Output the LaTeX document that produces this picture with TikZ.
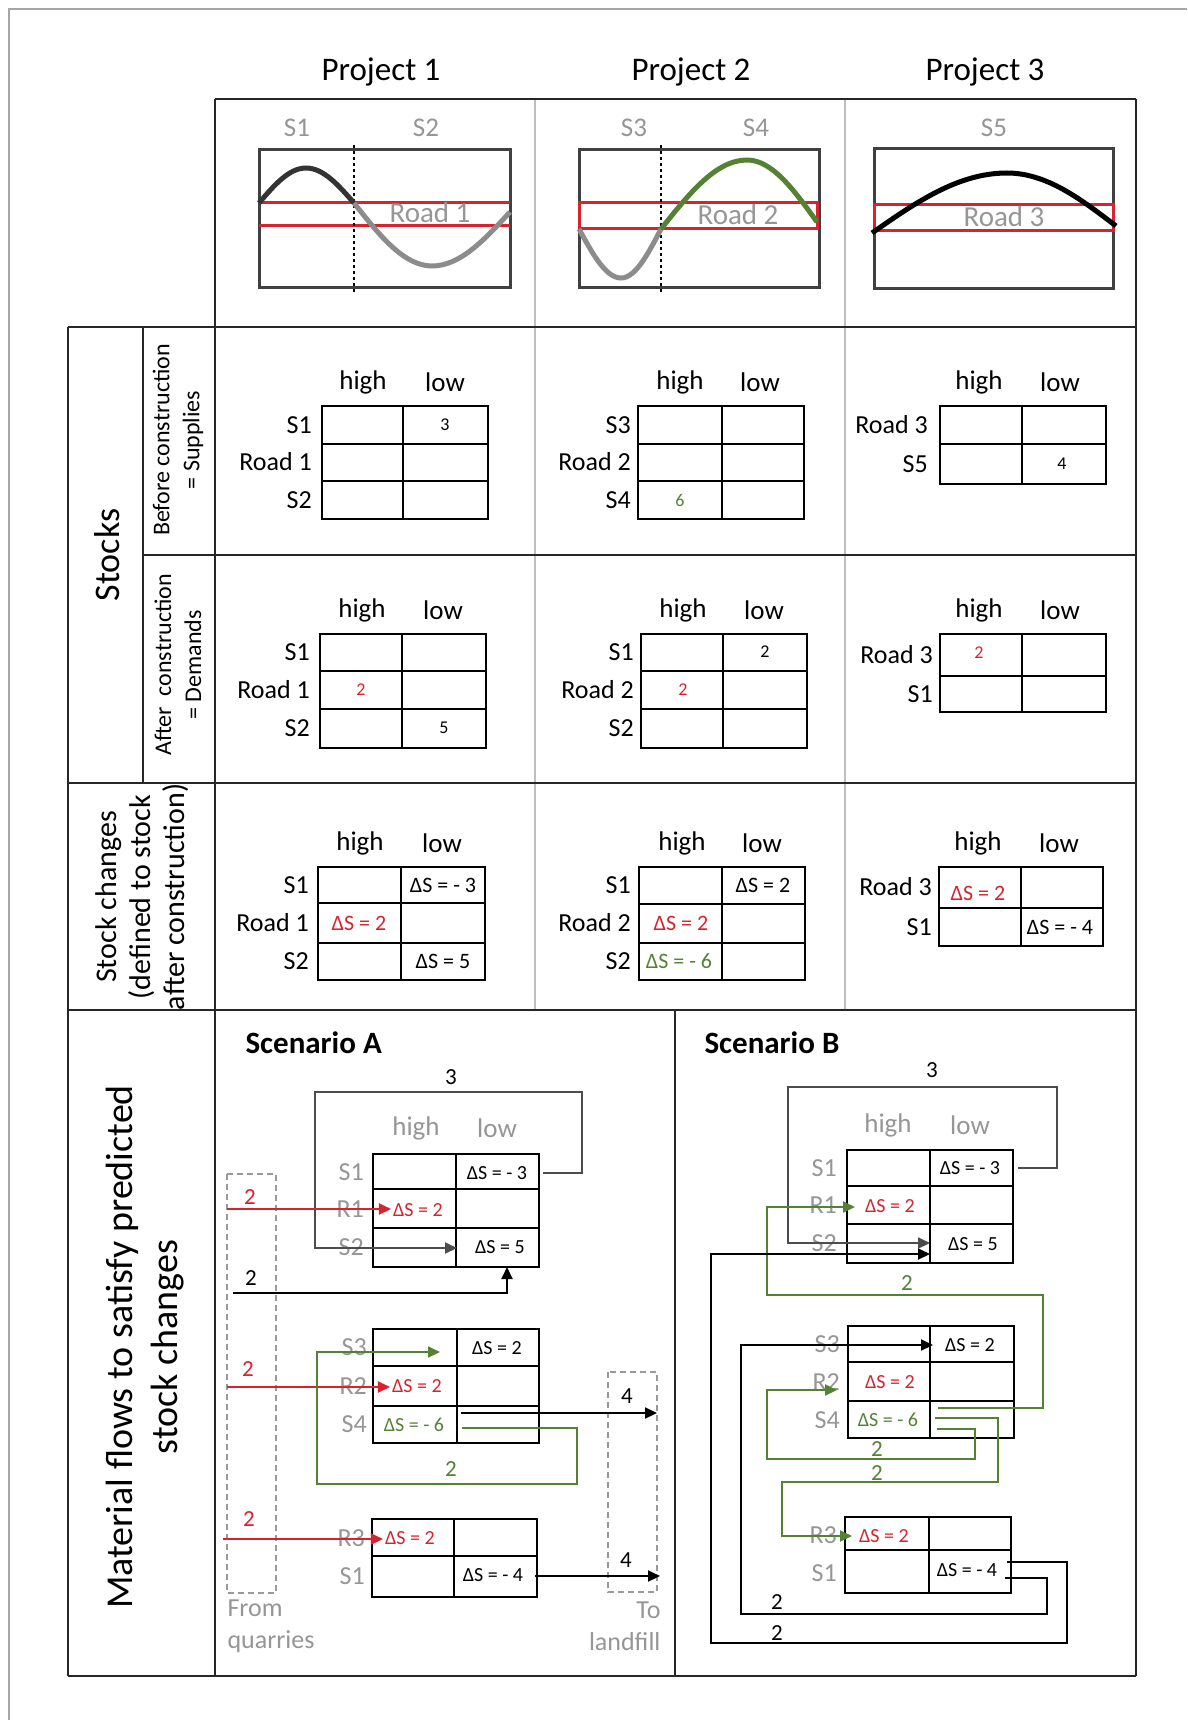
\documentclass[tikz,border=0pt]{standalone}
\usepackage{fontspec}
\setmainfont{Carlito}
\usepackage{tikz}
\usetikzlibrary{positioning,arrows.meta}

\definecolor{roadred}{RGB}{215,35,45}
\definecolor{soilgreen}{RGB}{84,130,53}
\definecolor{labgray}{RGB}{150,150,150}

\newcommand{\fsz}[2]{\fontsize{#1}{#2}\selectfont}
% table of stocks: left x, middle x, right x, top y, bottom y, inner row lines
\newcommand{\tabgrid}[6]{%
  \draw[tabline] (#1,#4) rectangle (#3,#5);
  \draw[tabline] (#2,#4) -- (#2,#5);
  \foreach \yy in {#6} {\draw[tabline] (#1,\yy) -- (#3,\yy);}%
}

\tikzset{
  title/.style={font=\fsz{33}{40}},
  toplab/.style={text=labgray, font=\fsz{27}{32}},
  roadlab/.style={text=labgray, font=\fsz{29}{34}},
  colhead/.style={font=\fsz{27}{32}},
  rowhead/.style={font=\fsz{26}{30}, anchor=east, inner sep=0pt},
  cellnum/.style={font=\fsz{18}{22}},
  delta/.style={font=\fsz{22}{25}, inner sep=2pt},
  sdelta/.style={font=\fsz{20}{24}, inner sep=2pt},
  flownum/.style={font=\fsz{23}{27}},
  scen/.style={font=\bfseries\fsz{31}{36}, anchor=west},
  sidelab/.style={rotate=90, align=center},
  frame/.style={line width=2.4pt, black!85},
  coldiv/.style={line width=1.4pt, black!25},
  tabline/.style={line width=2.2pt},
  plotbox/.style={line width=3pt, black!75},
  road/.style={line width=3pt, roadred},
  terrain/.style={line width=5pt},
  flow/.style={line width=2pt, -{Triangle[length=12pt,width=11pt]}},
  loopline/.style={flow, black!70},
  dashbox/.style={line width=1.2pt, black!40, dash pattern=on 6pt off 4pt}
}

\begin{document}
\begin{tikzpicture}[x=1pt,y=-1pt]
\fill[white] (0,0) rectangle (1187,1720);
\useasboundingbox (0,0) rectangle (1187,1720);
\draw[black!35, line width=1.2pt] (9,1720) -- (9,9) -- (1187,9);

% column titles
\node[title] (proj1) at (381,72) {Project 1};
\node[title] (proj2) at (691,72) {Project 2};
\node[title] (proj3) at (985,72) {Project 3};

% main grid
\draw[coldiv] (535,99) -- (535,1010) (845,99) -- (845,1010);
\draw[frame] (215,99) -- (1136,99);
\draw[frame] (215,99) -- (215,1676) (1136,99) -- (1136,1676);
\draw[frame] (68,327) -- (1136,327) (143,555) -- (1136,555);
\draw[frame] (68,783) -- (1136,783) (68,1010) -- (1136,1010);
\draw[frame] (68,1676) -- (1136,1676);
\draw[frame] (68,327) -- (68,1676) (143,327) -- (143,783);
\draw[frame] (675,1010) -- (675,1676);

% project 1 section
\draw[plotbox] (259,150) rectangle (510,287);
\draw[road] (259,203) -- (510,203) (259,226) -- (510,226);
\draw[dashed, line width=1.8pt] (354,145) -- (354,292);
\draw[terrain, black!80] (259,203) sin (306,168) cos (354,203);
\draw[terrain, black!45] (354,203) sin (432,266) cos (510,212);
\node[toplab] (s1top) at (297,128) {S1};
\node[toplab] (s2top) at (426,128) {S2};
\node[roadlab] (road1top) at (430,213) {Road 1};

% project 2 section
\draw[plotbox] (579,150) rectangle (819,287);
\draw[road] (579,203) rectangle (817,229);
\draw[dashed, line width=1.8pt] (661,145) -- (661,292);
\draw[terrain, black!45] (579,229) sin (621,278) cos (661,229);
\draw[terrain, soilgreen] (661,229) sin (747,160) cos (817,222);
\node[toplab] (s3top) at (634,128) {S3};
\node[toplab] (s4top) at (756,128) {S4};
\node[roadlab] (road2top) at (738,215) {Road 2};

% project 3 section
\draw[plotbox] (874,149) rectangle (1113,288);
\draw[road] (874,205) rectangle (1113,231);
\draw[terrain] (872,233) sin (1007,173) cos (1116,226);
\node[toplab] (s5top) at (994,128) {S5};
\node[roadlab] (road3top) at (1004,217) {Road 3};

% row titles
\node[sidelab, font=\fsz{36}{42}] (stocks) at (107,555) {Stocks};
\node[sidelab, font=\fsz{24}{30}] (before) at (178,440) {Before construction\\= Supplies};
\node[sidelab, font=\fsz{24}{30}] (after) at (178,665) {After\ \ construction\\= Demands};
\node[sidelab, font=\fsz{30}{34}] (changes) at (142,897) {Stock changes\\(defined to stock\\after construction)};
\node[sidelab, font=\fsz{38}{45}] (flows) at (145,1347) {Material flows to satisfy predicted\\stock changes};

% before construction
\tabgrid{322}{403}{488}{406}{519}{444,481}
\node[colhead] (b1high) at (363,382) {high};
\node[colhead] (b1low) at (445,382) {low};
\node[rowhead] (b1r1) at (312,425) {S1};
\node[rowhead] (b1r2) at (312,462) {Road 1};
\node[rowhead] (b1r3) at (312,500) {S2};
\node[cellnum] (b1v1) at (445,425) {3};

\tabgrid{638}{722}{804}{406}{519}{444,481}
\node[colhead] (b2high) at (680,382) {high};
\node[colhead] (b2low) at (760,382) {low};
\node[rowhead] (b2r1) at (631,425) {S3};
\node[rowhead] (b2r2) at (631,462) {Road 2};
\node[rowhead] (b2r3) at (631,500) {S4};
\node[cellnum, text=soilgreen] (b2v1) at (680,500) {6};

\tabgrid{940}{1022}{1106}{406}{484}{444}
\node[colhead] (b3high) at (979,382) {high};
\node[colhead] (b3low) at (1060,382) {low};
\node[rowhead] (b3r1) at (928,425) {Road 3};
\node[rowhead] (b3r2) at (928,464) {S5};
\node[cellnum] (b3v1) at (1062,464) {4};

% after construction
\tabgrid{320}{402}{486}{634}{748}{671,709}
\node[colhead] (c1high) at (362,610) {high};
\node[colhead] (c1low) at (443,610) {low};
\node[rowhead] (c1r1) at (310,652) {S1};
\node[rowhead] (c1r2) at (310,690) {Road 1};
\node[rowhead] (c1r3) at (310,728) {S2};
\node[cellnum, text=roadred] (c1v1) at (361,690) {2};
\node[cellnum] (c1v2) at (444,728) {5};

\tabgrid{641}{723}{807}{634}{748}{671,709}
\node[colhead] (c2high) at (683,610) {high};
\node[colhead] (c2low) at (764,610) {low};
\node[rowhead] (c2r1) at (634,652) {S1};
\node[rowhead] (c2r2) at (634,690) {Road 2};
\node[rowhead] (c2r3) at (634,728) {S2};
\node[cellnum] (c2v1) at (765,652) {2};
\node[cellnum, text=roadred] (c2v2) at (683,690) {2};

\tabgrid{940}{1022}{1106}{634}{712}{676}
\node[colhead] (c3high) at (979,610) {high};
\node[colhead] (c3low) at (1060,610) {low};
\node[rowhead] (c3r1) at (933,655) {Road 3};
\node[rowhead] (c3r2) at (933,694) {S1};
\node[cellnum, text=roadred] (c3v1) at (979,653) {2};

% stock changes
\tabgrid{318}{401}{485}{867}{980}{903,943}
\node[colhead] (d1high) at (360,843) {high};
\node[colhead] (d1low) at (442,843) {low};
\node[rowhead] (d1r1) at (309,885) {S1};
\node[rowhead] (d1r2) at (309,923) {Road 1};
\node[rowhead] (d1r3) at (309,961) {S2};
\node[delta] (d1v1) at (443,885) {ΔS = - 3};
\node[delta, text=roadred] (d1v2) at (359,923) {ΔS = 2};
\node[delta] (d1v3) at (443,961) {ΔS = 5};

\tabgrid{639}{722}{805}{867}{980}{904,943}
\node[colhead] (d2high) at (682,843) {high};
\node[colhead] (d2low) at (762,843) {low};
\node[rowhead] (d2r1) at (631,885) {S1};
\node[rowhead] (d2r2) at (631,923) {Road 2};
\node[rowhead] (d2r3) at (631,961) {S2};
\node[delta] (d2v1) at (763,885) {ΔS = 2};
\node[delta, text=roadred] (d2v2) at (681,923) {ΔS = 2};
\node[delta, text=soilgreen] (d2v3) at (679,961) {ΔS = - 6};

\tabgrid{939}{1021}{1103}{867}{946}{908}
\node[colhead] (d3high) at (978,843) {high};
\node[colhead] (d3low) at (1059,843) {low};
\node[rowhead] (d3r1) at (932,887) {Road 3};
\node[rowhead] (d3r2) at (932,927) {S1};
\node[delta, text=roadred] (d3v1) at (978,893) {ΔS = 2};
\node[delta] (d3v2) at (1060,927) {ΔS = - 4};

% scenario A
\node[scen] (scenA) at (242,1043) {Scenario A};
\draw[dashbox] (227,1174) rectangle (276,1593);
\draw[dashbox] (608,1372) rectangle (657,1592);
\node[toplab, align=left, anchor=west, font=\fsz{26}{32}] (quarry) at (224,1626) {From\\quarries};
\node[toplab, align=right, anchor=east, font=\fsz{26}{32}] (landfill) at (664,1626) {To\\landfill};

\tabgrid{373}{456}{539}{1154}{1267}{1189,1228}
\node[colhead, text=labgray] (a1high) at (416,1128) {high};
\node[colhead, text=labgray] (a1low) at (497,1128) {low};
\node[rowhead, text=labgray] (a1r1) at (364,1172) {S1};
\node[rowhead, text=labgray] (a1r2) at (364,1209) {R1};
\node[rowhead, text=labgray] (a1r3) at (364,1247) {S2};
\node[sdelta] (a1v1) at (497,1173) {ΔS = - 3};
\node[sdelta, text=roadred] (a1v2) at (418,1210) {ΔS = 2};
\node[sdelta] (a1v3) at (500,1247) {ΔS = 5};

\tabgrid{373}{457}{539}{1329}{1443}{1366,1406}
\node[rowhead, text=labgray] (a2r1) at (367,1347) {S3};
\node[rowhead, text=labgray] (a2r2) at (367,1386) {R2};
\node[rowhead, text=labgray] (a2r3) at (367,1424) {S4};
\node[sdelta] (a2v1) at (497,1348) {ΔS = 2};
\node[sdelta, text=roadred] (a2v2) at (417,1386) {ΔS = 2};
\node[sdelta, text=soilgreen] (a2v3) at (414,1425) {ΔS = - 6};

\tabgrid{372}{454}{537}{1519}{1597}{1556}
\node[rowhead, text=labgray] (a3r1) at (365,1538) {R3};
\node[rowhead, text=labgray] (a3r2) at (365,1576) {S1};
\node[sdelta, text=roadred] (a3v1) at (410,1538) {ΔS = 2};
\node[sdelta] (a3v2) at (493,1575) {ΔS = - 4};

\coordinate (aS1out) at (543,1173);
\coordinate (aS2in) at (457,1248);
\coordinate (aQ1) at (227,1209);
\coordinate (aQ2) at (233,1293);
\coordinate (aS2up) at (507,1267);
\coordinate (aQ3) at (227,1387);
\coordinate (aS4out) at (462,1428);
\coordinate (aS3in) at (440,1352);
\coordinate (aS4land) at (461,1413);
\coordinate (aL1) at (657,1413);
\coordinate (aQ4) at (223,1539);
\coordinate (aS1land) at (535,1576);
\coordinate (aL2) at (660,1576);

\draw[loopline] (aS1out) -| (582,1092) -| (315,1248) -- (aS2in);
\node[flownum] (a3lab) at (451,1077) {3};
\draw[flow, roadred] (aQ1) -- (aQ1 -| a1v2.west);
\node[flownum, text=roadred] (aq1lab) at (250,1197) {2};
\draw[flow] (aQ2) -| (aS2up);
\node[flownum] (aq2lab) at (251,1278) {2};
\draw[flow, roadred] (aQ3) -- (aQ3 -| a2v2.west);
\node[flownum, text=roadred] (aq3lab) at (248,1369) {2};
\draw[flow, soilgreen] (aS4out) -| (577,1484) -| (317,1352) -- (aS3in);
\node[flownum, text=soilgreen] (a2lab) at (451,1469) {2};
\draw[flow] (aS4land) -- (aL1);
\node[flownum] (al1lab) at (627,1396) {4};
\draw[flow, roadred] (aQ4) -- (aQ4 -| a3v1.west);
\node[flownum, text=roadred] (aq4lab) at (249,1519) {2};
\draw[flow] (aS1land) -- (aL2);
\node[flownum] (al2lab) at (626,1560) {4};

% scenario B
\node[scen] (scenB) at (701,1043) {Scenario B};

\tabgrid{847}{930}{1013}{1150}{1263}{1186,1224}
\node[colhead, text=labgray] (e1high) at (888,1125) {high};
\node[colhead, text=labgray] (e1low) at (970,1125) {low};
\node[rowhead, text=labgray] (e1r1) at (837,1168) {S1};
\node[rowhead, text=labgray] (e1r2) at (837,1205) {R1};
\node[rowhead, text=labgray] (e1r3) at (837,1243) {S2};
\node[sdelta] (e1v1) at (970,1168) {ΔS = - 3};
\node[sdelta, text=roadred] (e1v2) at (890,1206) {ΔS = 2};
\node[sdelta] (e1v3) at (973,1244) {ΔS = 5};

\tabgrid{848}{930}{1014}{1326}{1438}{1362,1401}
\node[rowhead, text=labgray] (e2r1) at (840,1344) {S3};
\node[rowhead, text=labgray] (e2r2) at (840,1382) {R2};
\node[rowhead, text=labgray] (e2r3) at (840,1420) {S4};
\node[sdelta] (e2v1) at (970,1345) {ΔS = 2};
\node[sdelta, text=roadred] (e2v2) at (890,1382) {ΔS = 2};
\node[sdelta, text=soilgreen] (e2v3) at (888,1420) {ΔS = - 6};

\tabgrid{845}{929}{1011}{1517}{1593}{1550}
\node[rowhead, text=labgray] (e3r1) at (837,1535) {R3};
\node[rowhead, text=labgray] (e3r2) at (837,1573) {S1};
\node[sdelta, text=roadred] (e3v1) at (884,1536) {ΔS = 2};
\node[sdelta] (e3v2) at (967,1570) {ΔS = - 4};

\coordinate (bS1out) at (1018,1168);
\coordinate (bS2in) at (930,1243);
\coordinate (bS2in2) at (930,1254);
\coordinate (bS3in) at (933,1345);
\coordinate (bR1in) at (855,1207);
\coordinate (bR2in) at (837,1390);
\coordinate (bR3in) at (852,1536);
\coordinate (bS4outa) at (938,1408);
\coordinate (bS4outb) at (935,1418);
\coordinate (bS4outc) at (937,1429);
\coordinate (bS1outa) at (1007,1562);
\coordinate (bS1outb) at (1005,1578);

\draw[loopline] (bS1out) -| (1057,1087) -| (788,1243) -- (bS2in);
\node[flownum] (b3lab) at (932,1070) {3};
\draw[flow, soilgreen] (bS4outa) -| (1043,1295) -| (767,1207) -- (bR1in);
\node[flownum, text=soilgreen] (bg1lab) at (907,1283) {2};
\draw[flow, soilgreen] (bS4outc) -| (975,1459) -| (767,1390) -- (bR2in);
\node[flownum, text=soilgreen] (bg2lab) at (877,1449) {2};
\draw[flow, soilgreen] (bS4outb) -| (998,1482) -| (782,1536) -- (bR3in);
\node[flownum, text=soilgreen] (bg3lab) at (877,1473) {2};
\draw[flow] (bS1outa) -| (1067,1643) -| (711,1254) -- (bS2in2);
\node[flownum] (bk1lab) at (777,1633) {2};
\draw[flow] (bS1outb) -| (1047,1614) -| (741,1345) -- (bS3in);
\node[flownum] (bk2lab) at (777,1602) {2};
\end{tikzpicture}
\end{document}
